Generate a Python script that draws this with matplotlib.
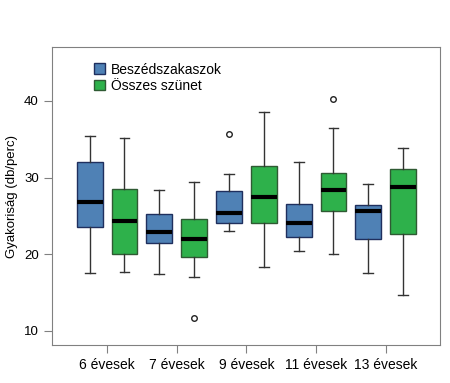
import numpy as np
import matplotlib
matplotlib.use("Agg")
import matplotlib.pyplot as plt
from matplotlib.patches import Patch

plt.rcParams['font.family'] = ['Liberation Sans', 'DejaVu Sans']

groups = ['6 évesek', '7 évesek', '9 évesek', '11 évesek', '13 évesek']
series = ['Beszédszakaszok', 'Összes szünet']

# five-number summaries: low whisker, Q1, median, Q3, high whisker
beszed_low = [17.6, 17.4, 23.0, 20.4, 17.6]
beszed_q1 = [23.6, 21.5, 24.05, 22.25, 22.0]
beszed_med = [26.8, 22.95, 25.4, 24.05, 25.65]
beszed_q3 = [32.0, 25.2, 28.2, 26.6, 26.4]
beszed_high = [35.4, 28.4, 30.4, 32.0, 29.1]
beszed_out = [[], [], [35.7], [], []]

szunet_low = [17.65, 17.0, 18.35, 20.0, 14.65]
szunet_q1 = [20.0, 19.7, 24.05, 25.65, 22.7]
szunet_med = [24.3, 22.0, 27.4, 28.4, 28.8]
szunet_q3 = [28.55, 24.65, 31.5, 30.65, 31.1]
szunet_high = [35.1, 29.4, 38.5, 36.5, 33.85]
szunet_out = [[], [11.65], [], [40.3], []]

colors = ['#4f81b5', '#2eb14b']
edges = ['#1f2f5e', '#2f5a33']


def make_stats(low, q1, med, q3, high, out):
    st = []
    for i in range(len(low)):
        st.append(dict(whislo=low[i], q1=q1[i], med=med[i], q3=q3[i],
                       whishi=high[i], fliers=out[i]))
    return st


fig = plt.figure(figsize=(4.5, 3.83), dpi=100)
ax = fig.add_axes([0.1156, 0.0992, 0.8624, 0.7778])

x = np.arange(len(groups))
data = [make_stats(beszed_low, beszed_q1, beszed_med, beszed_q3, beszed_high, beszed_out),
        make_stats(szunet_low, szunet_q1, szunet_med, szunet_q3, szunet_high, szunet_out)]
offsets = [-0.25, 0.25]

for k in range(2):
    ax.bxp(data[k], positions=x + offsets[k], widths=0.37, patch_artist=True,
           showfliers=True,
           boxprops=dict(facecolor=colors[k], edgecolor=edges[k], linewidth=1),
           medianprops=dict(color='black', linewidth=3),
           whiskerprops=dict(color='#333333', linewidth=1),
           capprops=dict(color='#333333', linewidth=1),
           capwidths=0.14,
           flierprops=dict(marker='o', markersize=4, markerfacecolor='white',
                           markeredgecolor='#222222', markeredgewidth=1))

ax.set_xlim(-0.79, 4.78)
ax.set_ylim(8.17, 47.0)
ax.set_xticks(x)
ax.set_xticklabels(groups, fontsize=10)
ax.set_yticks([10, 20, 30, 40])
ax.set_yticklabels(['10', '20', '30', '40'], fontsize=9.5)
ax.set_ylabel('Gyakoriság (db/perc)', fontsize=9.5)

for s in ax.spines.values():
    s.set_color('#808080')
ax.tick_params(axis='both', colors='#808080', length=6, labelcolor='black')

handles = [Patch(facecolor=colors[k], edgecolor=edges[k], label=series[k]) for k in range(2)]
ax.legend(handles=handles, loc='upper left', bbox_to_anchor=(0.075, 0.99), frameon=False,
          fontsize=10, handlelength=0.8, handleheight=0.8, handletextpad=0.45,
          labelspacing=0.15)

fig.savefig('out.png', dpi=100)
